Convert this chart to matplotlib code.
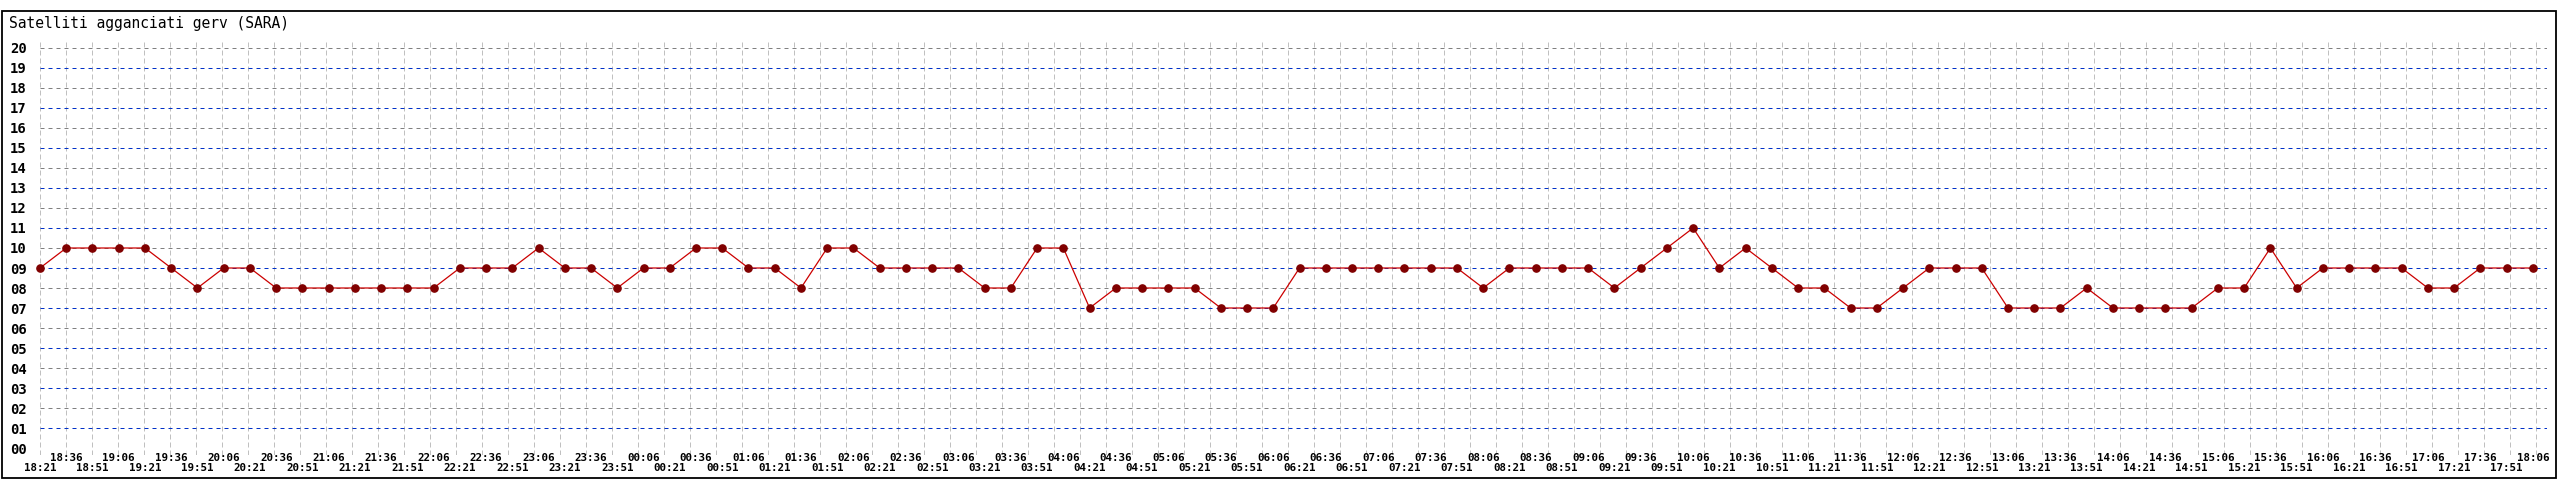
import matplotlib.pyplot as plt
from matplotlib.patches import Rectangle

title = "Satelliti agganciati gerv (SARA)"

# one sample every 15 minutes, 18:21 -> 18:06 next day
times = [
    "18:21", "18:36", "18:51",
    "19:06", "19:21", "19:36", "19:51",
    "20:06", "20:21", "20:36", "20:51",
    "21:06", "21:21", "21:36", "21:51",
    "22:06", "22:21", "22:36", "22:51",
    "23:06", "23:21", "23:36", "23:51",
    "00:06", "00:21", "00:36", "00:51",
    "01:06", "01:21", "01:36", "01:51",
    "02:06", "02:21", "02:36", "02:51",
    "03:06", "03:21", "03:36", "03:51",
    "04:06", "04:21", "04:36", "04:51",
    "05:06", "05:21", "05:36", "05:51",
    "06:06", "06:21", "06:36", "06:51",
    "07:06", "07:21", "07:36", "07:51",
    "08:06", "08:21", "08:36", "08:51",
    "09:06", "09:21", "09:36", "09:51",
    "10:06", "10:21", "10:36", "10:51",
    "11:06", "11:21", "11:36", "11:51",
    "12:06", "12:21", "12:36", "12:51",
    "13:06", "13:21", "13:36", "13:51",
    "14:06", "14:21", "14:36", "14:51",
    "15:06", "15:21", "15:36", "15:51",
    "16:06", "16:21", "16:36", "16:51",
    "17:06", "17:21", "17:36", "17:51",
    "18:06",
]

satellites = [
    9, 10, 10, 10, 10, 9, 8, 9, 9, 8, 8, 8, 8, 8, 8, 8, 9, 9,
    9, 10, 9, 9, 8, 9, 9, 10, 10, 9, 9, 8, 10, 10, 9, 9, 9, 9, 8, 8, 10, 10, 7, 8, 8, 8, 8,
    7, 7, 7, 9, 9, 9, 9, 9, 9, 9, 8, 9, 9, 9, 9, 8, 9, 10, 11, 9, 10, 9, 8, 8, 7, 7, 8,
    9, 9, 9, 7, 7, 7, 8, 7, 7, 7, 7, 8, 8, 10, 8, 9, 9, 9, 9, 8, 8, 9, 9, 9,
]

y_levels = list(range(21))

W, H = 2560, 480
FONT = "DejaVu Sans Mono"

fig = plt.figure(figsize=(W / 100, H / 100), dpi=100)

# plot area in pixels (from top-left)
step = 26.24      # px between samples
grid_step = 26.0  # px between vertical grid lines
left, right = 40, 2547
top, bottom = 40, 455
y_zero = 448
unit = 20.0

ax = fig.add_axes([left / W, (H - bottom) / H, (right - left) / W, (bottom - top) / H])
ax.set_xlim(0, (right - left) / step)
ax.set_ylim((y_zero - bottom) / unit, (y_zero - top) / unit)
for s in ax.spines.values():
    s.set_visible(False)

# vertical grid
for k in range(97):
    ax.axvline(k * grid_step / step, color="#c0c0c0", lw=0.72, dashes=(5, 3), zorder=1)

# horizontal grid, alternating gray / blue
for v in y_levels[1:]:
    c = "#0030c8" if v % 2 else "#808080"
    ax.axhline(v, color=c, lw=0.72, dashes=(4, 4), zorder=2)

x = list(range(len(satellites)))
ax.plot(x, satellites, color="#cc0000", lw=0.9, marker="o", ms=5.2,
        mfc="#800000", mec="#800000", zorder=3, clip_on=False)

ax.set_yticks(y_levels)
ax.set_yticklabels([f"{v:02d}" for v in y_levels], family=FONT, fontsize=10, weight="bold")
ax.tick_params(axis="y", length=0, pad=9.5)

ax.set_xticks(x[0::2])
ax.set_xticklabels(times[0::2], family=FONT, fontsize=7.8, weight="bold")
ax.set_xticks(x[1::2], minor=True)
ax.set_xticklabels(times[1::2], minor=True, family=FONT, fontsize=7.8, weight="bold")
ax.tick_params(axis="x", which="major", length=0, pad=5.8)
ax.tick_params(axis="x", which="minor", length=0, pad=-1.4)

fig.text(9 / W, (H - 28) / H, title, family=FONT, fontsize=10.5, ha="left", va="baseline")

fig.add_artist(Rectangle((1.5 / W, 2 / H), (2556 - 1.5) / W, (469 - 2) / H,
                         transform=fig.transFigure, fill=False, ec="black", lw=1.3))

fig.savefig("out.png", dpi=100)
